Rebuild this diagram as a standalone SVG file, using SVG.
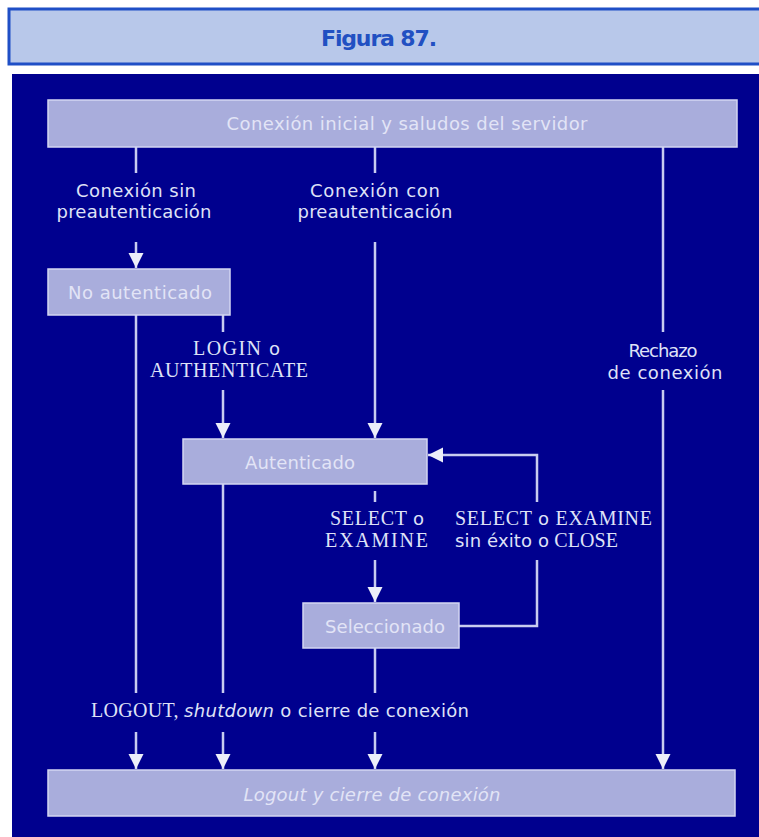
<svg xmlns="http://www.w3.org/2000/svg" width="759" height="837" viewBox="0 0 759 837">
<defs>
<style>
.box{fill:#a9addc;stroke:#d3d6f2;stroke-width:1.5}
.bt{font-family:"DejaVu Sans","Liberation Sans",sans-serif;font-size:18px;fill:#e2e4f6;text-anchor:middle}
.lb{font-family:"DejaVu Sans","Liberation Sans",sans-serif;font-size:18px;fill:#dfe2f7;text-anchor:middle}
.sf{font-family:"Liberation Serif","Times New Roman",serif;font-size:20px;fill:#dfe2f7}
.ss{font-family:"DejaVu Sans","Liberation Sans",sans-serif;font-size:18px}
.ln{fill:none;stroke:#c8ccf0;stroke-width:2.5}
</style>
<marker id="ah" markerUnits="userSpaceOnUse" markerWidth="16" markerHeight="16" refX="15" refY="7.5" orient="auto">
<path d="M0,0 L15,7.5 L0,15 z" fill="#eceef9"/>
</marker>
</defs>
<rect x="0" y="0" width="759" height="837" fill="#ffffff"/>
<g id="header">
<rect x="9" y="9" width="760" height="55" fill="#b8c8ea" stroke="#1f4fc6" stroke-width="3"/>
<text x="379" y="46" font-family="'DejaVu Sans','Liberation Sans',sans-serif" font-size="22" font-weight="bold" fill="#2150c2" text-anchor="middle" textLength="116">Figura 87.</text>
</g>
<rect x="12" y="74" width="747" height="763" fill="#00008e"/>
<g id="connectors">
<line class="ln" x1="136" y1="147" x2="136" y2="173"/>
<line class="ln" x1="136" y1="242" x2="136" y2="268" marker-end="url(#ah)"/>
<line class="ln" x1="375" y1="147" x2="375" y2="173"/>
<line class="ln" x1="375" y1="242" x2="375" y2="438" marker-end="url(#ah)"/>
<line class="ln" x1="663" y1="147" x2="663" y2="332"/>
<line class="ln" x1="663" y1="390" x2="663" y2="769" marker-end="url(#ah)"/>
<line class="ln" x1="136" y1="315" x2="136" y2="693"/>
<line class="ln" x1="223" y1="315" x2="223" y2="332"/>
<line class="ln" x1="223" y1="390" x2="223" y2="438" marker-end="url(#ah)"/>
<line class="ln" x1="223" y1="484" x2="223" y2="693"/>
<line class="ln" x1="375" y1="491" x2="375" y2="502"/>
<line class="ln" x1="375" y1="560" x2="375" y2="602" marker-end="url(#ah)"/>
<line class="ln" x1="375" y1="648" x2="375" y2="693"/>
<line class="ln" x1="136" y1="732" x2="136" y2="769" marker-end="url(#ah)"/>
<line class="ln" x1="223" y1="732" x2="223" y2="769" marker-end="url(#ah)"/>
<line class="ln" x1="375" y1="732" x2="375" y2="769" marker-end="url(#ah)"/>
<polyline class="ln" points="459,626 537,626 537,560"/>
<polyline class="ln" points="537,502 537,455 428,455" marker-end="url(#ah)"/>
</g>
<g id="labels">
<text class="lb" x="136" y="197" textLength="120">Conexión sin</text>
<text class="lb" x="134" y="218" textLength="155">preautenticación</text>
<text class="lb" x="375" y="197" textLength="130">Conexión con</text>
<text class="lb" x="375" y="218" textLength="155">preautenticación</text>
<text class="lb" x="663" y="357" textLength="69">Rechazo</text>
<text class="lb" x="665" y="379" textLength="115">de conexión</text>
<text class="sf" x="193" y="355" textLength="87">LOGIN <tspan class="ss">o</tspan></text>
<text class="sf" x="150" y="377" textLength="158">AUTHENTICATE</text>
<text class="sf" x="330" y="525" textLength="94">SELECT <tspan class="ss">o</tspan></text>
<text class="sf" x="325" y="547" textLength="103">EXAMINE</text>
<text class="sf" x="455" y="525" textLength="197">SELECT <tspan class="ss">o</tspan> EXAMINE</text>
<text class="sf" x="455" y="547" textLength="163"><tspan class="ss">sin éxito o</tspan> CLOSE</text>
<text class="sf" x="91" y="717" textLength="378">LOGOUT, <tspan class="ss" font-style="italic">shutdown</tspan><tspan class="ss"> o cierre de conexión</tspan></text>
</g>
<g id="n-inicial">
<rect class="box" x="48" y="100" width="689" height="47"/>
<text class="bt" x="407" y="130" textLength="361">Conexión inicial y saludos del servidor</text>
</g>
<g id="n-noaut">
<rect class="box" x="48" y="269" width="182" height="46"/>
<text class="bt" x="140" y="299" textLength="144">No autenticado</text>
</g>
<g id="n-aut">
<rect class="box" x="183" y="439" width="244" height="45"/>
<text class="bt" x="300" y="469" textLength="110">Autenticado</text>
</g>
<g id="n-sel">
<rect class="box" x="303" y="603" width="156" height="45"/>
<text class="bt" x="385" y="633" textLength="120">Seleccionado</text>
</g>
<g id="n-logout">
<rect class="box" x="48" y="770" width="687" height="46"/>
<text class="bt" x="372" y="801" textLength="257" font-style="italic">Logout y cierre de conexión</text>
</g>
</svg>
